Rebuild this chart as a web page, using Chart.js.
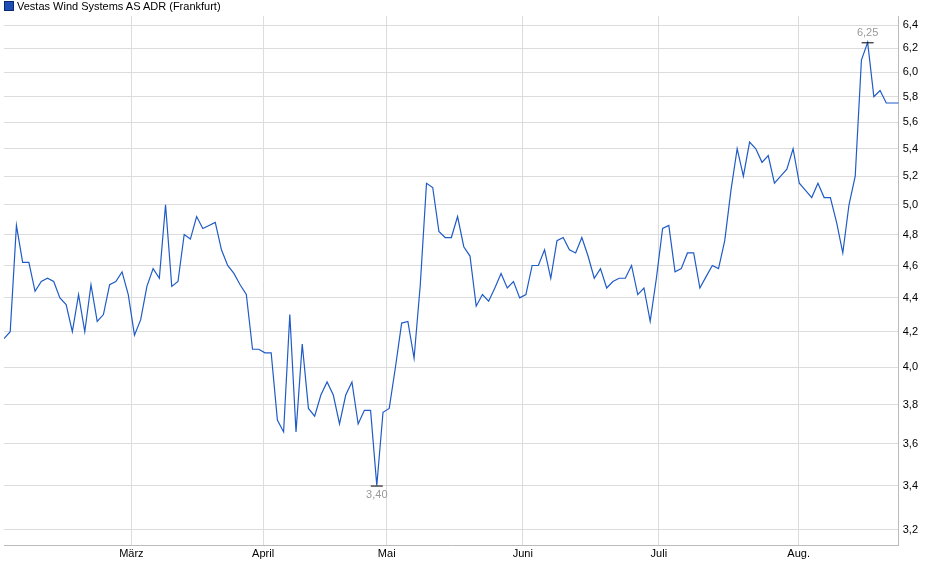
<!DOCTYPE html>
<html>
<head>
<meta charset="utf-8">
<script src="https://cdn.jsdelivr.net/npm/chart.js@4"></script>
<style>
  body { margin: 0; background: #fff; }
  #wrap { position: relative; width: 940px; height: 579px; }
  #legend { position: absolute; left: 4px; top: 0px; font: 11px "Liberation Sans", Arial, sans-serif; color: #000; }
  #legend span { display: inline-block; width: 8px; height: 8px; background: #1f4fb4; border: 1px solid #0a2a70; margin-right: 3px; vertical-align: -1px; }
</style>
</head>
<body>
<div id="wrap">
  <div id="legend"><span></span>Vestas Wind Systems AS ADR (Frankfurt)</div>
  <canvas id="myChart" width="940" height="579"></canvas>
</div>
<script>
const prices = [4.16, 4.2, 4.86, 4.62, 4.62, 4.44, 4.5, 4.52, 4.5, 4.4, 4.36, 4.2, 4.42, 4.2, 4.48, 4.26, 4.3, 4.48, 4.5, 4.56,
  4.42, 4.18, 4.27, 4.47, 4.58, 4.52, 5.0, 4.47, 4.5, 4.8, 4.77, 4.92, 4.84, 4.86, 4.88, 4.7, 4.6, 4.55, 4.48, 4.42,
  4.1, 4.1, 4.08, 4.08, 3.72, 3.66, 4.3, 3.66, 4.13, 3.78, 3.74, 3.85, 3.92, 3.85, 3.7, 3.85, 3.92, 3.7, 3.77, 3.77,
  3.4, 3.76, 3.78, 4.0, 4.25, 4.26, 4.05, 4.48, 5.15, 5.12, 4.82, 4.78, 4.78, 4.92, 4.72, 4.66, 4.35, 4.42, 4.38, 4.46,
  4.55, 4.46, 4.5, 4.4, 4.42, 4.6, 4.6, 4.7, 4.52, 4.76, 4.78, 4.7, 4.68, 4.78, 4.66, 4.52, 4.58, 4.46, 4.5, 4.52,
  4.52, 4.6, 4.42, 4.46, 4.26, 4.52, 4.84, 4.86, 4.56, 4.58, 4.68, 4.68, 4.46, 4.53, 4.6, 4.58, 4.76, 5.1, 5.4, 5.2,
  5.45, 5.4, 5.3, 5.35, 5.15, 5.2, 5.25, 5.4, 5.15, 5.1, 5.05, 5.15, 5.05, 5.05, 4.88, 4.68, 5.0, 5.2, 6.1, 6.25,
  5.8, 5.85, 5.75, 5.75, 5.75];
const monthLabels = ['März', 'April', 'Mai', 'Juni', 'Juli', 'Aug.'];
const monthIdx = [20.5, 41.7, 61.6, 83.5, 105.4, 127.9];
const yTicks = [3.2, 3.4, 3.6, 3.8, 4.0, 4.2, 4.4, 4.6, 4.8, 5.0, 5.2, 5.4, 5.6, 5.8, 6.0, 6.2, 6.4];

const fmt = v => v.toFixed(2).replace('.', ',');

const extremes = {
  id: 'extremes',
  afterDatasetsDraw(chart) {
    const ctx = chart.ctx, xs = chart.scales.x, ys = chart.scales.y;
    const hi = Math.max(...prices), lo = Math.min(...prices);
    const marks = [[prices.indexOf(hi), hi, -1], [prices.indexOf(lo), lo, 1]];
    ctx.save();
    ctx.font = '11px "Liberation Sans", Arial, sans-serif';
    ctx.textAlign = 'center';
    marks.forEach(([i, v, dir]) => {
      const px = xs.getPixelForValue(i), py = ys.getPixelForValue(v);
      ctx.strokeStyle = '#000';
      ctx.lineWidth = 1;
      ctx.beginPath(); ctx.moveTo(px - 6, py + 0.5); ctx.lineTo(px + 6, py + 0.5); ctx.stroke();
      ctx.fillStyle = '#999';
      ctx.textBaseline = dir < 0 ? 'bottom' : 'top';
      ctx.fillText(fmt(v), px, py + dir * 4);
    });
    ctx.restore();
  }
};

new Chart(document.getElementById('myChart').getContext('2d'), {
  type: 'line',
  data: {
    datasets: [{
      data: prices.map((p, i) => ({ x: i, y: p })),
      borderColor: '#1f5bc6',
      borderWidth: 1.2,
      pointRadius: 0,
      tension: 0
    }]
  },
  options: {
    responsive: false,
    animation: false,
    layout: { padding: { left: 4, top: 16, right: 18, bottom: 16 } },
    plugins: { legend: { display: false }, tooltip: { enabled: false } },
    scales: {
      x: {
        type: 'linear',
        min: 0, max: prices.length - 1,
        afterBuildTicks: ax => { ax.ticks = monthIdx.map(v => ({ value: v })); },
        ticks: {
          callback: (v, i) => monthLabels[i],
          font: { size: 11, family: '"Liberation Sans", Arial' }, color: '#000', maxRotation: 0, padding: 2
        },
        grid: { color: '#dcdcdc', drawTicks: false },
        border: { color: '#bbb' }
      },
      y: {
        type: 'logarithmic',
        position: 'right',
        min: 3.13, max: 6.48,
        afterBuildTicks: ax => { ax.ticks = yTicks.map(v => ({ value: v })); },
        ticks: {
          callback: v => v.toFixed(1).replace('.', ','),
          font: { size: 11, family: '"Liberation Sans", Arial' }, color: '#000', padding: 4
        },
        grid: { color: '#dcdcdc', drawTicks: false },
        border: { color: '#bbb' }
      }
    }
  },
  plugins: [extremes]
});
</script>
</body>
</html>
